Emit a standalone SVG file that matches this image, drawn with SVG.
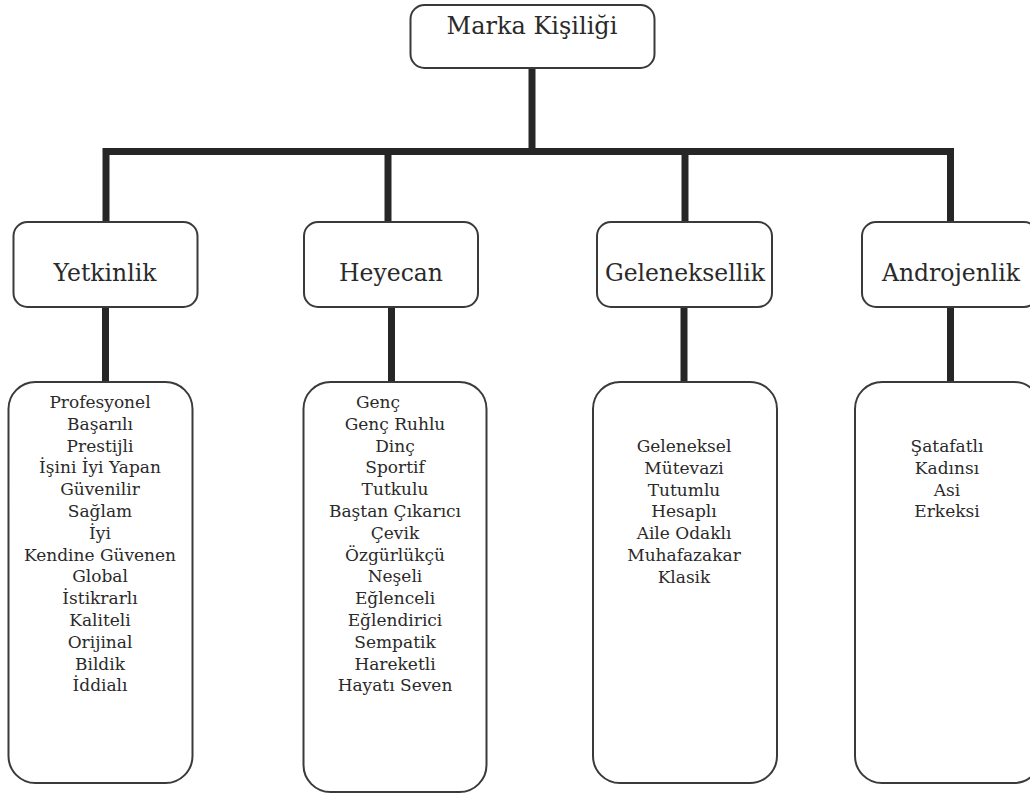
<svg xmlns="http://www.w3.org/2000/svg" width="1030" height="793" viewBox="0 0 1030 793">
<style>
.box{fill:#fff;stroke:#3a3a3a;stroke-width:2}
.conn{fill:none;stroke:#262626;stroke-width:7;stroke-linejoin:miter;stroke-linecap:butt}
text{font-family:"DejaVu Serif","Liberation Serif",serif;fill:#2a2a2a;text-anchor:middle}
.title{font-size:24px}
.cat{font-size:23.5px}
.item{font-size:17px}
</style>
<rect width="1030" height="793" fill="#fff"/>
<g id="connectors">
<path class="conn" d="M532 68 V151.5"/>
<path class="conn" d="M106 222 V151.5 H950.5 V222"/>
<path class="conn" d="M388 151.5 V222"/>
<path class="conn" d="M685 151.5 V222"/>
<path class="conn" d="M105.5 307 V382"/>
<path class="conn" d="M391.5 307 V382"/>
<path class="conn" d="M684 307 V382"/>
<path class="conn" d="M950.5 307 V382"/>
</g>
<g id="marka-kisiligi">
<rect class="box" x="410.5" y="5" width="244" height="63" rx="14"/>
<text class="title" x="532" y="34">Marka Kişiliği</text>
</g>
<g id="yetkinlik">
<rect class="box" x="13.5" y="222" width="184" height="85" rx="14"/>
<text class="cat" x="105" y="281">Yetkinlik</text>
</g>
<g id="heyecan">
<rect class="box" x="304" y="222" width="174" height="85" rx="14"/>
<text class="cat" x="391" y="281">Heyecan</text>
</g>
<g id="geleneksellik">
<rect class="box" x="597" y="222" width="175" height="85" rx="14"/>
<text class="cat" x="685" y="281">Geleneksellik</text>
</g>
<g id="androjenlik">
<rect class="box" x="862" y="222" width="176" height="85" rx="14"/>
<text class="cat" x="951" y="281">Androjenlik</text>
</g>
<g id="yetkinlik-list">
<rect class="box" x="8.5" y="382" width="184" height="401" rx="27"/>
<text class="item" x="100" y="408">Profesyonel</text>
<text class="item" x="100" y="429.8">Başarılı</text>
<text class="item" x="100" y="451.6">Prestijli</text>
<text class="item" x="100" y="473.4">İşini İyi Yapan</text>
<text class="item" x="100" y="495.2">Güvenilir</text>
<text class="item" x="100" y="517">Sağlam</text>
<text class="item" x="100" y="538.8">İyi</text>
<text class="item" x="100" y="560.6">Kendine Güvenen</text>
<text class="item" x="100" y="582.4">Global</text>
<text class="item" x="100" y="604.2">İstikrarlı</text>
<text class="item" x="100" y="626">Kaliteli</text>
<text class="item" x="100" y="647.8">Orijinal</text>
<text class="item" x="100" y="669.6">Bildik</text>
<text class="item" x="100" y="691.4">İddialı</text>
</g>
<g id="heyecan-list">
<rect class="box" x="303.5" y="382" width="183" height="410" rx="27"/>
<text class="item" x="378" y="408">Genç</text>
<text class="item" x="395" y="429.8">Genç Ruhlu</text>
<text class="item" x="395" y="451.6">Dinç</text>
<text class="item" x="395" y="473.4">Sportif</text>
<text class="item" x="395" y="495.2">Tutkulu</text>
<text class="item" x="395" y="517">Baştan Çıkarıcı</text>
<text class="item" x="395" y="538.8">Çevik</text>
<text class="item" x="395" y="560.6">Özgürlükçü</text>
<text class="item" x="395" y="582.4">Neşeli</text>
<text class="item" x="395" y="604.2">Eğlenceli</text>
<text class="item" x="395" y="626">Eğlendirici</text>
<text class="item" x="395" y="647.8">Sempatik</text>
<text class="item" x="395" y="669.6">Hareketli</text>
<text class="item" x="395" y="691.4">Hayatı Seven</text>
</g>
<g id="geleneksellik-list">
<rect class="box" x="593" y="382" width="184" height="401" rx="27"/>
<text class="item" x="684" y="452">Geleneksel</text>
<text class="item" x="684" y="473.8">Mütevazi</text>
<text class="item" x="684" y="495.6">Tutumlu</text>
<text class="item" x="684" y="517.4">Hesaplı</text>
<text class="item" x="684" y="539.2">Aile Odaklı</text>
<text class="item" x="684" y="561">Muhafazakar</text>
<text class="item" x="684" y="582.8">Klasik</text>
</g>
<g id="androjenlik-list">
<rect class="box" x="855" y="382" width="186" height="401" rx="27"/>
<text class="item" x="947" y="452">Şatafatlı</text>
<text class="item" x="947" y="473.8">Kadınsı</text>
<text class="item" x="947" y="495.6">Asi</text>
<text class="item" x="947" y="517.4">Erkeksi</text>
</g>
</svg>
